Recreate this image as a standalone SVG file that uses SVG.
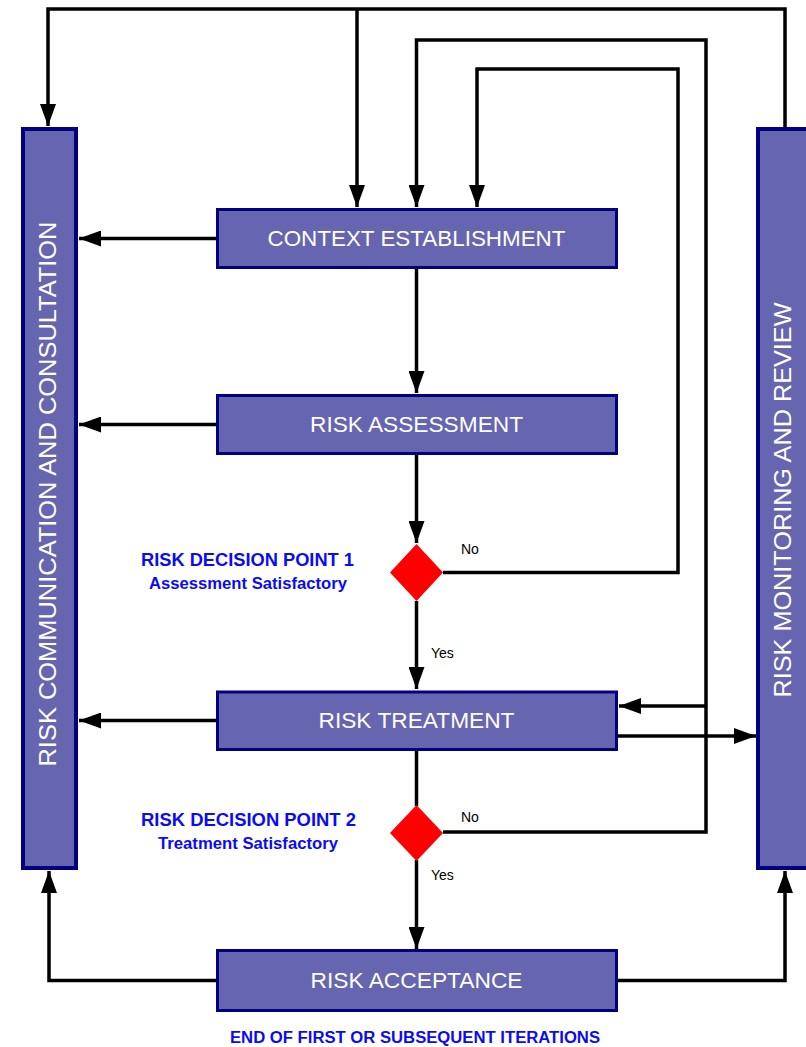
<svg xmlns="http://www.w3.org/2000/svg" width="806" height="1047" viewBox="0 0 806 1047">
  <defs>
    <marker id="arrow" markerUnits="userSpaceOnUse" markerWidth="22" markerHeight="16" refX="22" refY="8" orient="auto">
      <path d="M0,0 L22,8 L0,16 z" fill="#000"/>
    </marker>
    <style>
      .box { fill: #6565b0; stroke: #000080; stroke-width: 3; }
      .bar { fill: #6565b0; stroke: #000080; stroke-width: 4; }
      .lbl { font-family: "Liberation Sans", Arial, sans-serif; font-size: 22px; fill: #fff; text-anchor: middle; }
      .vlbl { font-family: "Liberation Sans", Arial, sans-serif; font-size: 24px; fill: #fff; text-anchor: middle; }
      .note { font-family: "Liberation Sans", Arial, sans-serif; font-weight: bold; fill: #0a0af5; }
      .yn { font-family: "Liberation Sans", Arial, sans-serif; font-size: 14px; fill: #000; }
      .diamond { fill: #ff0000; stroke: none; }
      .wire { fill: none; stroke: #000; stroke-width: 3.5; stroke-linejoin: miter; }
      .wire-a { fill: none; stroke: #000; stroke-width: 3.5; marker-end: url(#arrow); }
    </style>
  </defs>
  <rect width="806" height="1047" fill="#fff"/>

  <!-- connectors -->
  <g id="connectors">
    <!-- outer review loop from monitoring bar to communication bar -->
    <path class="wire-a" d="M785,127 V9 H48 V126"/>
    <path class="wire-a" d="M357,9 V207"/>
    <!-- decision 2 "No" loop -->
    <path class="wire-a" d="M443,832 H706 V40 H416.5 V207"/>
    <path class="wire-a" d="M706,706 H619"/>
    <!-- decision 1 "No" loop -->
    <path class="wire-a" d="M443,572.5 H678 V69 H477 V207"/>
    <!-- main flow -->
    <path class="wire-a" d="M416.5,269 V393"/>
    <path class="wire-a" d="M416.5,455 V543"/>
    <path class="wire-a" d="M416.5,601 V689"/>
    <path class="wire" d="M416.5,751 V806"/>
    <path class="wire-a" d="M416.5,860 V949"/>
    <!-- communication arrows -->
    <path class="wire-a" d="M216,238.5 H79"/>
    <path class="wire-a" d="M216,424.5 H79"/>
    <path class="wire-a" d="M216,720.5 H79"/>
    <!-- treatment to monitoring -->
    <path class="wire-a" d="M618,736 H756"/>
    <!-- acceptance feedback -->
    <path class="wire-a" d="M216,980.5 H49 V871"/>
    <path class="wire-a" d="M618,980.5 H785 V871"/>
  </g>

  <g id="communication">
    <rect class="bar" x="23" y="129" width="53" height="739"/>
    <text class="vlbl" transform="translate(56,494) rotate(-90)" textLength="545" lengthAdjust="spacingAndGlyphs">RISK COMMUNICATION AND CONSULTATION</text>
  </g>

  <g id="monitoring">
    <rect class="bar" x="758" y="129" width="60" height="739"/>
    <text class="vlbl" transform="translate(791,500) rotate(-90)" textLength="395" lengthAdjust="spacingAndGlyphs">RISK MONITORING AND REVIEW</text>
  </g>

  <g id="context">
    <rect class="box" x="217.5" y="209.5" width="399" height="58"/>
    <text class="lbl" x="416.5" y="245.5" textLength="298" lengthAdjust="spacingAndGlyphs">CONTEXT ESTABLISHMENT</text>
  </g>

  <g id="assessment">
    <rect class="box" x="217.5" y="395.5" width="399" height="58"/>
    <text class="lbl" x="416.5" y="431.5" textLength="213" lengthAdjust="spacingAndGlyphs">RISK ASSESSMENT</text>
  </g>

  <g id="decision1">
    <polygon class="diamond" points="416.5,544 443,572.5 416.5,601 390,572.5"/>
    <text class="note" x="247.5" y="566" font-size="18" text-anchor="middle" textLength="213" lengthAdjust="spacingAndGlyphs">RISK DECISION POINT 1</text>
    <text class="note" x="248" y="589" font-size="16" text-anchor="middle" textLength="198" lengthAdjust="spacingAndGlyphs">Assessment Satisfactory</text>
    <text class="yn" x="461" y="554">No</text>
    <text class="yn" x="431" y="658">Yes</text>
  </g>

  <g id="treatment">
    <rect class="box" x="217.5" y="692" width="399" height="57.5"/>
    <text class="lbl" x="416.5" y="728" textLength="196" lengthAdjust="spacingAndGlyphs">RISK TREATMENT</text>
  </g>

  <g id="decision2">
    <polygon class="diamond" points="416.5,805 443,833 416.5,861 390,833"/>
    <text class="note" x="248.5" y="826" font-size="18" text-anchor="middle" textLength="215" lengthAdjust="spacingAndGlyphs">RISK DECISION POINT 2</text>
    <text class="note" x="248" y="849" font-size="16" text-anchor="middle" textLength="180" lengthAdjust="spacingAndGlyphs">Treatment Satisfactory</text>
    <text class="yn" x="461" y="822">No</text>
    <text class="yn" x="431" y="880">Yes</text>
  </g>

  <g id="acceptance">
    <rect class="box" x="217.5" y="950.5" width="399" height="60"/>
    <text class="lbl" x="416.5" y="988" textLength="212" lengthAdjust="spacingAndGlyphs">RISK ACCEPTANCE</text>
    <text class="note" x="415" y="1043" font-size="16" text-anchor="middle" textLength="370" lengthAdjust="spacingAndGlyphs">END OF FIRST OR SUBSEQUENT ITERATIONS</text>
  </g>
</svg>
